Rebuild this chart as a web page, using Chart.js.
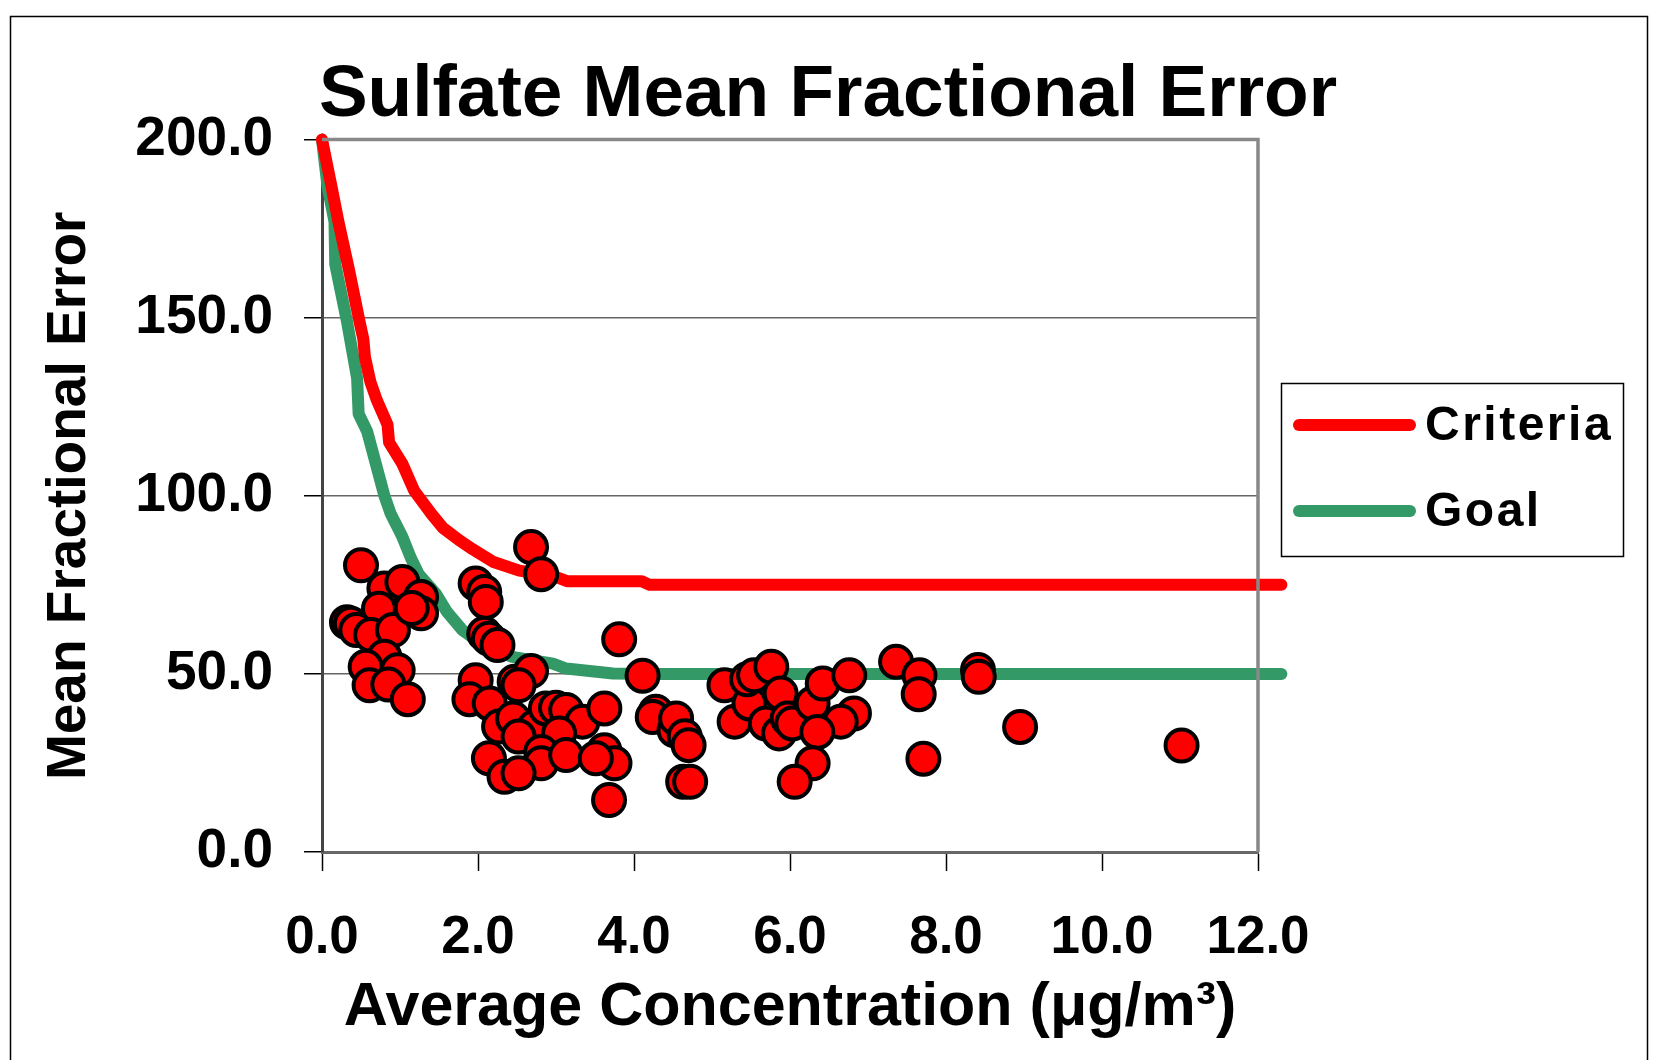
<!DOCTYPE html>
<html>
<head>
<meta charset="utf-8">
<title>Sulfate Mean Fractional Error</title>
<script src="https://cdn.jsdelivr.net/npm/chart.js@4.4.1/dist/chart.umd.min.js"></script>
<style>
    html, body { margin: 0; padding: 0; background: #fff; }
    canvas { display: block; }
</style>
</head>
<body>
<canvas id="mfe-chart" width="1656" height="1060"></canvas>
<script>
// Observed sulfate points: average concentration (ug/m3) and mean fractional error (%)
const concX = [
    0.50, 0.80, 1.03, 1.27, 1.27, 0.73, 0.32, 0.37, 0.44, 0.63, 0.91, 1.15, 0.80, 0.56, 0.97, 0.61, 0.85, 1.10,
    1.97, 2.08, 2.10, 2.08, 2.14, 2.25, 2.68, 2.81, 1.97, 1.89, 2.15, 2.47, 2.68, 2.52,
    2.27, 2.45, 2.72, 2.52, 2.87, 3.00, 3.13, 3.34, 3.62, 3.04, 2.81, 2.81, 3.13, 2.14, 2.34, 2.52,
    3.62, 3.75, 3.51, 3.68, 3.81, 4.11, 4.28, 4.24, 4.52, 4.54, 4.65, 4.70, 4.63, 4.72,
    5.16, 5.29, 5.48, 5.45, 5.54, 5.76, 5.88, 5.69, 5.86, 5.97, 6.03, 6.29, 6.42, 6.76, 6.82, 6.65, 6.35,
    6.29, 6.06, 7.36, 7.66, 7.65, 7.71, 8.41, 8.42, 8.95, 11.02
];
const mfeY = [
    80.5, 74.0, 75.8, 71.6, 67.0, 68.3, 64.5, 64.1, 62.3, 60.9, 62.3, 68.5, 54.8, 52.0, 51.0, 46.8, 47.0, 42.9,
    75.4, 73.0, 70.2, 61.3, 59.9, 58.1, 85.6, 78.0, 48.2, 42.9, 41.7, 47.8, 50.8, 46.8,
    35.2, 37.5, 35.0, 32.4, 40.3, 40.5, 39.9, 36.6, 40.3, 33.3, 28.1, 24.9, 27.2, 26.3, 21.1, 22.1,
    28.6, 24.9, 26.3, 14.6, 59.7, 49.5, 39.4, 37.9, 34.2, 37.5, 32.5, 30.0, 19.7, 19.7,
    46.8, 36.6, 41.7, 48.5, 49.6, 52.0, 44.5, 36.1, 33.3, 37.5, 36.1, 41.7, 47.3, 49.6, 38.9, 36.6, 33.7,
    24.9, 19.7, 53.4, 49.6, 44.3, 26.2, 51.1, 49.2, 35.1, 29.9
];

// Performance criteria curve
const criteriaX = [0, 0.12, 0.21, 0.35, 0.48, 0.53, 0.55, 0.62, 0.70, 0.78, 0.84, 0.86, 1.03, 1.18, 1.40,
    1.55, 1.76, 1.93, 2.19, 2.53, 2.96, 3.15, 4.10, 4.20, 12.3];
const criteriaY = [200, 187, 177, 163, 149, 144, 139, 132, 127, 123, 120, 115, 109, 101.5, 95,
    91, 87.5, 85, 81.5, 79, 77.5, 76, 76, 75, 75];

// Performance goal curve
const goalX = [0, 0.07, 0.16, 0.17, 0.32, 0.45, 0.47, 0.58, 0.69, 0.80, 0.88, 1.03, 1.14, 1.24, 1.46,
    1.60, 1.80, 2.10, 2.44, 2.96, 3.13, 3.73, 4.30, 12.3];
const goalY = [200, 187, 177, 165, 149, 133, 123, 118, 109, 100, 95, 88.5, 82.5, 78, 72.5,
    67.5, 62.3, 57.6, 54.8, 52.9, 51.5, 50.1, 50, 50];

const xTicks = [0, 2, 4, 6, 8, 10, 12];
const yTicks = [0, 50, 100, 150, 200];

const FONT = "'Liberation Sans', Arial, Helvetica, sans-serif";
Chart.defaults.font.family = FONT;
Chart.defaults.color = '#000';

function toPoints(xs, ys) {
    return xs.map((x, i) => ({ x: x, y: ys[i] }));
}

// white background + outer border of the picture
const backgroundPlugin = {
    id: 'background',
    beforeDraw(chart) {
        const ctx = chart.ctx;
        ctx.save();
        ctx.fillStyle = '#fff';
        ctx.fillRect(0, 0, chart.width, chart.height);
        ctx.strokeStyle = '#000';
        ctx.lineWidth = 1.5;
        ctx.strokeRect(10.5, 16.5, 1637, 1200);
        ctx.restore();
    }
};

// grey plot area frame (top and right edges)
const framePlugin = {
    id: 'frame',
    afterDatasetsDraw(chart) {
        const a = chart.chartArea;
        const ctx = chart.ctx;
        ctx.save();
        ctx.strokeStyle = '#888';
        ctx.lineWidth = 3.5;
        ctx.beginPath();
        ctx.moveTo(a.left, a.top);
        ctx.lineTo(a.right, a.top);
        ctx.lineTo(a.right, a.bottom);
        ctx.stroke();
        ctx.restore();
    }
};

// boxed legend to the right of the plot
const boxLegendPlugin = {
    id: 'boxLegend',
    afterDraw(chart) {
        const ctx = chart.ctx;
        const items = chart.data.datasets.filter(d => d.showLine);
        ctx.save();
        ctx.strokeStyle = '#000';
        ctx.lineWidth = 1.5;
        ctx.strokeRect(1281.5, 383.5, 342, 173);
        ctx.font = 'bold 48px ' + FONT;
        ctx.textBaseline = 'middle';
        ctx.fillStyle = '#000';
        if ('letterSpacing' in ctx) ctx.letterSpacing = '2.5px';
        items.forEach((d, i) => {
            const y = 425 + i * 86;
            ctx.strokeStyle = d.borderColor;
            ctx.lineWidth = 12;
            ctx.lineCap = 'round';
            ctx.beginPath();
            ctx.moveTo(1299, y);
            ctx.lineTo(1410, y);
            ctx.stroke();
            ctx.fillText(d.label, 1425, y + 2);
        });
        ctx.restore();
    }
};

new Chart(document.getElementById('mfe-chart'), {
    type: 'scatter',
    data: {
        datasets: [{
            label: 'Sites',
            data: toPoints(concX, mfeY),
            backgroundColor: '#ff0000',
            borderColor: '#000',
            borderWidth: 4,
            pointRadius: 16,
            pointHoverRadius: 16
        }, {
            label: 'Criteria',
            data: toPoints(criteriaX, criteriaY),
            showLine: true,
            borderColor: '#ff0000',
            backgroundColor: '#ff0000',
            borderWidth: 12,
            borderCapStyle: 'round',
            borderJoinStyle: 'round',
            pointRadius: 0,
            tension: 0,
            clip: false
        }, {
            label: 'Goal',
            data: toPoints(goalX, goalY),
            showLine: true,
            borderColor: '#339966',
            backgroundColor: '#339966',
            borderWidth: 12,
            borderCapStyle: 'round',
            borderJoinStyle: 'round',
            pointRadius: 0,
            tension: 0,
            clip: false
        }]
    },
    options: {
        responsive: false,
        animation: false,
        events: [],
        layout: { padding: 0 },
        plugins: {
            legend: { display: false },
            tooltip: { enabled: false },
            title: {
                display: true,
                text: 'Sulfate Mean Fractional Error',
                color: '#000',
                font: { size: 73, weight: 'bold' },
                padding: { top: 52, bottom: 0 }
            }
        },
        scales: {
            x: {
                type: 'linear',
                min: 0,
                max: 12,
                afterBuildTicks: s => { s.ticks = xTicks.map(v => ({ value: v })); },
                afterFit: s => { s.height = 208; },
                grid: { drawOnChartArea: false, tickLength: 19, tickColor: '#000', tickWidth: 1.5 },
                border: { color: '#666', width: 3 },
                ticks: {
                    padding: 36,
                    autoSkip: false,
                    maxRotation: 0,
                    font: { size: 53, weight: 'bold' },
                    callback: v => v.toFixed(1)
                },
                title: {
                    display: true,
                    text: 'Average Concentration (μg/m³)',
                    font: { size: 61, weight: 'bold' },
                    padding: { top: 0, bottom: 15 }
                }
            },
            y: {
                type: 'linear',
                min: 0,
                max: 200,
                afterBuildTicks: s => { s.ticks = yTicks.map(v => ({ value: v })); },
                afterFit: s => { s.width = 322; },
                grid: { color: '#666', lineWidth: 1.5, tickLength: 18, tickColor: '#000', tickWidth: 1.5 },
                border: { color: '#444', width: 3 },
                ticks: {
                    padding: 31,
                    font: { size: 55, weight: 'bold' },
                    callback: v => v.toFixed(1)
                },
                title: {
                    display: true,
                    text: 'Mean Fractional Error',
                    font: { size: 55, weight: 'bold' },
                    padding: { top: 37, bottom: 0 }
                }
            },
            // empty right axis, only reserves room for the legend
            y2: {
                type: 'linear',
                position: 'right',
                afterFit: s => { s.width = 398; },
                grid: { display: false },
                border: { display: false },
                ticks: { display: false }
            }
        }
    },
    plugins: [backgroundPlugin, framePlugin, boxLegendPlugin]
});
</script>
</body>
</html>
